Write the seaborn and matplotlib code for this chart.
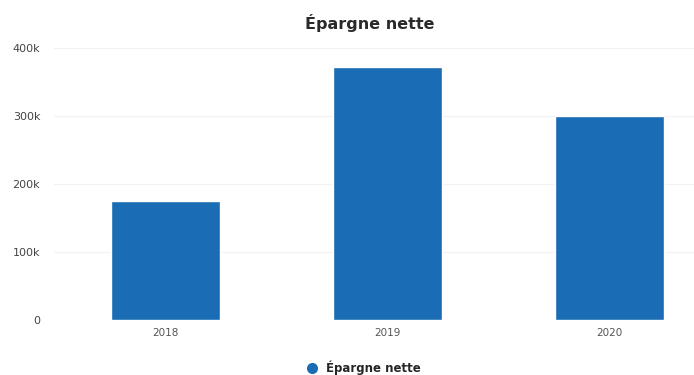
import matplotlib
matplotlib.use("Agg")
import matplotlib.pyplot as plt
import seaborn as sns
import pandas as pd
from matplotlib.lines import Line2D

years = ["2018", "2019", "2020"]
values = [175000, 372000, 300000]
yticks = [0, 100000, 200000, 300000, 400000]
ytick_labels = ["0", "100k", "200k", "300k", "400k"]
series_name = "Épargne nette"
color = "#1a6cb4"

sns.set_theme(style="white")
plt.rcParams['font.family'] = ['DejaVu Sans']

df = pd.DataFrame({"year": years, "value": values})

fig = plt.figure(figsize=(6.94, 3.75), dpi=100)
ax = fig.add_axes([0.078, 0.147, 0.922, 0.725])
sns.barplot(data=df, x="year", y="value", color=color, width=0.49, ax=ax, saturation=1)

ax.set_ylim(0, 400000)
ax.set_xlim(-0.5, 2.38)
ax.set_yticks(yticks)
ax.set_yticklabels(ytick_labels, fontsize=8, color="#444444")
ax.tick_params(axis="x", labelsize=7.5, colors="#555555", length=0, pad=6)
ax.tick_params(axis="y", length=0, pad=10)
ax.yaxis.grid(True, color="#f2f2f2", linewidth=0.8)
ax.set_axisbelow(True)
for s in ax.spines.values():
    s.set_visible(False)
ax.set_xlabel("")
ax.set_ylabel("")

fig.text(0.533, 0.94, series_name, ha="center", va="center", fontsize=11.5,
         color="#2a2a2a", weight="semibold")

handle = Line2D([0], [0], marker="o", color="w", markerfacecolor=color, markersize=9)
fig.legend([handle], [series_name], loc="center", bbox_to_anchor=(0.52, 0.02),
           frameon=False, handletextpad=0.2,
           prop={"weight": "bold", "size": 8.5})

fig.savefig("out.png", dpi=100)
